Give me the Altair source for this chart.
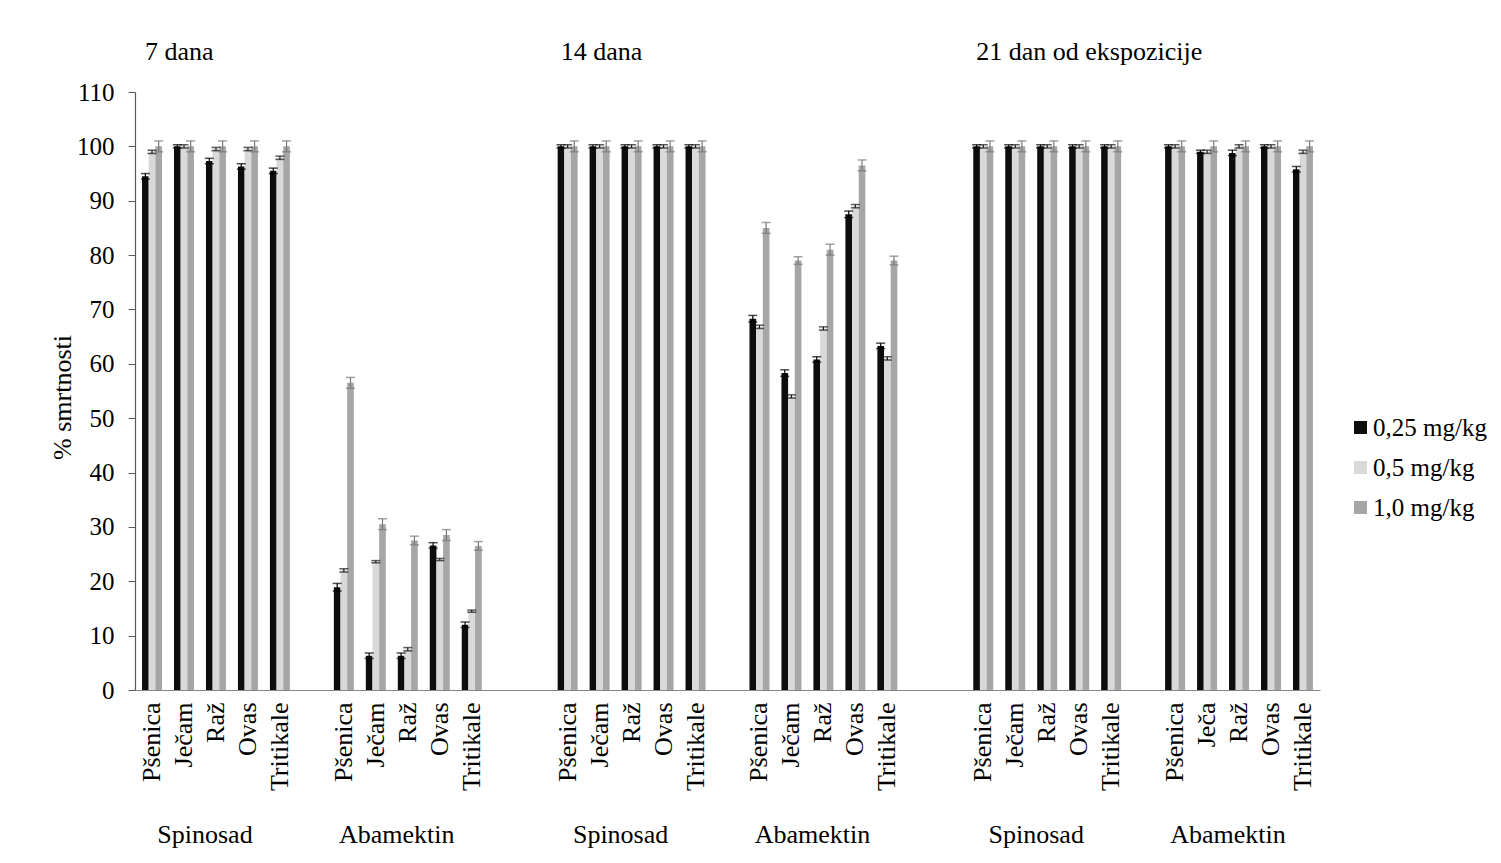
import altair as alt
import pandas as pd

periods = ["7 dana", "14 dana", "21 dan od ekspozicije"]
insecticides = ["Spinosad", "Abamektin"]
series = ["0,25 mg/kg", "0,5 mg/kg", "1,0 mg/kg"]
grains = ["Pšenica", "Ječam", "Raž", "Ovas", "Tritikale"]
grains_21_aba = ["Pšenica", "Ječa", "Raž", "Ovas", "Tritikale"]
y_ticks = [0, 10, 20, 30, 40, 50, 60, 70, 80, 90, 100, 110]

# mean values (% mortality) per group: [0,25 ; 0,5 ; 1,0 mg/kg]
d7_spin_025 = [94.5, 100, 97.3, 96.3, 95.5]
d7_spin_05 = [99.0, 100, 99.5, 99.5, 97.9]
d7_spin_10 = [100, 100, 100, 100, 100]
d7_aba_025 = [18.9, 6.3, 6.3, 26.6, 12.0]
d7_aba_05 = [22.0, 23.6, 7.5, 24.0, 14.5]
d7_aba_10 = [56.5, 30.5, 27.5, 28.5, 26.5]
d14_spin_025 = [100, 100, 100, 100, 100]
d14_spin_05 = [100, 100, 100, 100, 100]
d14_spin_10 = [100, 100, 100, 100, 100]
d14_aba_025 = [68.3, 58.3, 60.8, 87.5, 63.3]
d14_aba_05 = [66.8, 54.0, 66.5, 89.0, 61.0]
d14_aba_10 = [85.0, 79.0, 81.0, 96.5, 79.0]
d21_spin_025 = [100, 100, 100, 100, 100]
d21_spin_05 = [100, 100, 100, 100, 100]
d21_spin_10 = [100, 100, 100, 100, 100]
d21_aba_025 = [100, 99.0, 98.8, 100, 95.8]
d21_aba_05 = [100, 99.0, 100, 100, 99.0]
d21_aba_10 = [100, 100, 100, 100, 100]

# standard errors
d7_spin_err = [[0.5, 0.3, 0.5, 0.5, 0.5], [0.3, 0.3, 0.3, 0.3, 0.3], [1.0, 1.0, 1.0, 1.0, 1.0]]
d7_aba_err = [[0.7, 0.5, 0.5, 0.5, 0.5], [0.3, 0.2, 0.3, 0.2, 0.2], [1.0, 1.0, 0.8, 1.0, 0.8]]
d14_spin_err = [[0.3, 0.3, 0.3, 0.3, 0.3], [0.3, 0.3, 0.3, 0.3, 0.3], [1.0, 1.0, 1.0, 1.0, 1.0]]
d14_aba_err = [[0.6, 0.6, 0.5, 0.6, 0.5], [0.3, 0.3, 0.3, 0.3, 0.3], [1.0, 0.7, 1.0, 1.0, 0.8]]
d21_spin_err = [[0.3, 0.3, 0.3, 0.3, 0.3], [0.3, 0.3, 0.3, 0.3, 0.3], [1.0, 1.0, 1.0, 1.0, 1.0]]
d21_aba_err = [[0.3, 0.3, 0.5, 0.3, 0.5], [0.3, 0.3, 0.3, 0.3, 0.3], [1.0, 1.0, 1.0, 1.0, 1.0]]

bar_colors = ["#0d0d0d", "#d9d9d9", "#a6a6a6"]
err_colors = ["#000000", "#1a1a1a", "#7a7a7a"]

groups = {
    ("7 dana", "Spinosad"): (grains, [d7_spin_025, d7_spin_05, d7_spin_10], d7_spin_err),
    ("7 dana", "Abamektin"): (grains, [d7_aba_025, d7_aba_05, d7_aba_10], d7_aba_err),
    ("14 dana", "Spinosad"): (grains, [d14_spin_025, d14_spin_05, d14_spin_10], d14_spin_err),
    ("14 dana", "Abamektin"): (grains, [d14_aba_025, d14_aba_05, d14_aba_10], d14_aba_err),
    ("21 dan od ekspozicije", "Spinosad"): (grains, [d21_spin_025, d21_spin_05, d21_spin_10], d21_spin_err),
    ("21 dan od ekspozicije", "Abamektin"): (grains_21_aba, [d21_aba_025, d21_aba_05, d21_aba_10], d21_aba_err),
}

slots = []
rows = []
period_rows = []
group_rows = []
for pi, p in enumerate(periods):
    for ii, ins in enumerate(insecticides):
        labels, vals, errs = groups[(p, ins)]
        for gi, g in enumerate(labels):
            key = f"{p}|{ins}|{g}"
            slots.append(key)
            for si, s in enumerate(series):
                v = vals[si][gi]
                e = errs[si][gi]
                rows.append({"slot": key, "series": s, "value": v,
                             "lo": v - e, "hi": v + e})
        group_rows.append({"slot": f"{p}|{ins}|{labels[2]}", "label": ins})
        if ii == 0:
            slots.append(f"{p}|gap1|")
    period_rows.append({"slot": f"{p}|Spinosad|{grains[0]}", "label": p})
    if pi < len(periods) - 1:
        slots.append(f"{p}|gap2|")
        slots.append(f"{p}|gap3|")

df = pd.DataFrame(rows)
df_period = pd.DataFrame(period_rows)
df_group = pd.DataFrame(group_rows)

FONT = "Liberation Serif"

xscale = alt.Scale(domain=slots, paddingInner=0.375, paddingOuter=0.22)
xoff = alt.XOffset("series:N", scale=alt.Scale(domain=series, paddingInner=0, paddingOuter=0))
yscale = alt.Scale(domain=[0, 110], nice=False)

x_enc = alt.X("slot:N", scale=xscale, sort=slots,
              axis=alt.Axis(title=None, labelExpr="split(datum.value, '|')[2]",
                            labelAngle=-90, labelFontSize=26, labelFont=FONT,
                            labelColor="#000000", labelPadding=12, ticks=False,
                            domainColor="#868686", domainWidth=1.2, labelLimit=300))

bars = alt.Chart(df).mark_bar().encode(
    x=x_enc,
    xOffset=xoff,
    y=alt.Y("value:Q", scale=yscale,
            axis=alt.Axis(values=y_ticks, title="% smrtnosti", titleFontSize=26,
                          titleFont=FONT, titleFontWeight="normal", titleColor="#000000",
                          titleAngle=-90, titleX=-73, titleY=305, titleAlign="center",
                          titleBaseline="middle",
                          labelFontSize=25, labelFont=FONT, labelColor="#000000",
                          labelPadding=14, tickSize=7, tickColor="#595959",
                          domainColor="#595959", domainWidth=1.2, grid=False)),
    color=alt.Color("series:N", scale=alt.Scale(domain=series, range=bar_colors),
                    title=None,
                    legend=alt.Legend(orient="none", legendX=1213, legendY=323,
                                      padding=0,
                                      symbolType="square", symbolSize=169,
                                      symbolStrokeWidth=0, labelFontSize=25,
                                      labelFont=FONT, labelColor="#000000",
                                      rowPadding=14, labelOffset=0)),
)

err_color = alt.Color("series:N", scale=alt.Scale(domain=series, range=err_colors), legend=None)

err_rule = alt.Chart(df).mark_rule(strokeWidth=1.2).encode(
    x=alt.X("slot:N", scale=xscale, sort=slots),
    xOffset=xoff,
    y=alt.Y("lo:Q", scale=yscale),
    y2="hi:Q",
    color=err_color,
)
cap_lo = alt.Chart(df).mark_tick(size=9, thickness=1.5).encode(
    x=alt.X("slot:N", scale=xscale, sort=slots),
    xOffset=xoff,
    y=alt.Y("lo:Q", scale=yscale),
    color=err_color,
)
cap_hi = alt.Chart(df).mark_tick(size=9, thickness=1.5).encode(
    x=alt.X("slot:N", scale=xscale, sort=slots),
    xOffset=xoff,
    y=alt.Y("hi:Q", scale=yscale),
    color=err_color,
)

period_text = alt.Chart(df_period).mark_text(
    align="left", baseline="middle", fontSize=26, font=FONT, color="#000000", dx=-7
).encode(
    x=alt.X("slot:N", scale=xscale, sort=slots),
    y=alt.value(-40),
    text="label:N",
)

group_text = alt.Chart(df_group).mark_text(
    align="center", baseline="middle", fontSize=26, font=FONT, color="#000000", dx=-11
).encode(
    x=alt.X("slot:N", scale=xscale, sort=slots),
    y=alt.value(743),
    text="label:N",
)

chart = alt.layer(bars, err_rule, cap_lo, cap_hi, period_text, group_text).resolve_scale(
    color="independent"
).properties(
    width=1185, height=598,
    autosize=alt.AutoSizeParams(type="none"),
    padding={"left": 135, "top": 92, "right": 181, "bottom": 173},
    background="#ffffff",
).configure_view(stroke=None)

chart.save("out.html", embed_options={"renderer": "svg", "actions": False})
